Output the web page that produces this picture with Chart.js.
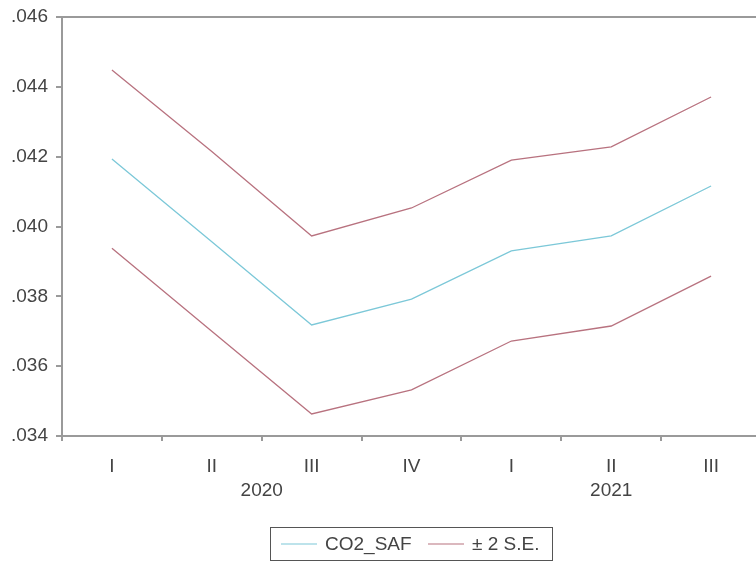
<!DOCTYPE html>
<html>
<head>
<meta charset="utf-8">
<title>CO2_SAF forecast</title>
<script src="https://cdn.jsdelivr.net/npm/chart.js@4.4.0/dist/chart.umd.min.js"></script>
<style>
  html, body { margin: 0; padding: 0; background: #fff; overflow: hidden; }
  #wrap { width: 762px; height: 563px; }
</style>
</head>
<body>
<div id="wrap"><canvas id="chart" width="762" height="563"></canvas></div>
<script>
// data
const quarters = ["I", "II", "III", "IV", "I", "II", "III"];
const years = [
  { label: "2020", from: 0, to: 3 },
  { label: "2021", from: 4, to: 6 },
];
const co2Saf    = [0.04193, 0.03956, 0.03718, 0.03792, 0.03930, 0.03973, 0.04116];
const upperBand = [0.04448, 0.04215, 0.03973, 0.04053, 0.04190, 0.04228, 0.04371];
const lowerBand = [0.03938, 0.03700, 0.03463, 0.03532, 0.03672, 0.03715, 0.03858];
const yMin = 0.034, yMax = 0.046, yStep = 0.002;

const axisColor = "#9a9a9a";
const textColor = "#444";
const fitColor = "#7cc8d8";
const bandColor = "#b8727f";
const fontFamily = "'Liberation Sans', Arial, sans-serif";

// top / right edge of the frame
const framePlugin = {
  id: "frame",
  afterDraw(chart) {
    const { ctx, chartArea: a } = chart;
    ctx.save();
    ctx.strokeStyle = axisColor;
    ctx.lineWidth = 2;
    ctx.beginPath();
    ctx.moveTo(a.left, a.top);
    ctx.lineTo(a.right, a.top);
    ctx.lineTo(a.right, a.bottom);
    ctx.stroke();
    ctx.restore();
  }
};

// year labels under the quarter labels
const yearPlugin = {
  id: "years",
  afterDraw(chart) {
    const { ctx } = chart;
    const x = chart.scales.x;
    ctx.save();
    ctx.fillStyle = textColor;
    ctx.font = "19px " + fontFamily;
    ctx.textAlign = "center";
    ctx.textBaseline = "middle";
    years.forEach(y => {
      const cx = (x.getPixelForValue(y.from) + x.getPixelForValue(y.to)) / 2;
      ctx.fillText(y.label, cx, 491);
    });
    ctx.restore();
  }
};

// boxed legend like the eviews one
const legendPlugin = {
  id: "boxLegend",
  afterDraw(chart) {
    const { ctx } = chart;
    ctx.save();
    ctx.strokeStyle = "#555";
    ctx.lineWidth = 1;
    ctx.strokeRect(270.5, 527.5, 282, 33);
    ctx.font = "19px " + fontFamily;
    ctx.textBaseline = "middle";
    ctx.fillStyle = textColor;
    const items = [
      { text: "CO2_SAF", color: fitColor, x: 281 },
      { text: "\u00b1 2 S.E.", color: bandColor, x: 428 },
    ];
    items.forEach(it => {
      ctx.strokeStyle = it.color;
      ctx.lineWidth = 1.2;
      ctx.beginPath();
      ctx.moveTo(it.x, 544);
      ctx.lineTo(it.x + 36, 544);
      ctx.stroke();
      ctx.fillText(it.text, it.x + 44, 545);
    });
    ctx.restore();
  }
};

new Chart(document.getElementById("chart"), {
  type: "line",
  data: {
    labels: quarters,
    datasets: [
      { label: "CO2_SAF", data: co2Saf, borderColor: fitColor },
      { label: "+2 S.E.", data: upperBand, borderColor: bandColor },
      { label: "-2 S.E.", data: lowerBand, borderColor: bandColor },
    ],
  },
  options: {
    responsive: false,
    animation: false,
    devicePixelRatio: 1,
    layout: { padding: { top: 17, right: 1, left: 0, bottom: 0 } },
    elements: {
      line: { borderWidth: 1.3, tension: 0, fill: false },
      point: { radius: 0, hoverRadius: 0 },
    },
    plugins: {
      legend: { display: false },
      tooltip: { enabled: false },
    },
    scales: {
      x: {
        type: "category",
        offset: true,
        grid: { offset: true, drawOnChartArea: false, tickLength: 5, color: axisColor, lineWidth: 2 },
        border: { color: axisColor, width: 2 },
        ticks: { padding: 14, color: textColor, font: { family: fontFamily, size: 19 }, maxRotation: 0 },
        afterFit(s) { s.height = 127; },
      },
      y: {
        min: yMin,
        max: yMax,
        grid: { drawOnChartArea: false, tickLength: 6, color: axisColor, lineWidth: 2 },
        border: { color: axisColor, width: 2 },
        ticks: {
          stepSize: yStep,
          padding: 8,
          color: textColor,
          font: { family: fontFamily, size: 19 },
          callback: v => v.toFixed(3).replace(/^0/, ""),
        },
        afterFit(s) { s.width = 62; s.paddingTop = 0; s.paddingBottom = 0; },
      },
    },
  },
  plugins: [framePlugin, yearPlugin, legendPlugin],
});
</script>
</body>
</html>
